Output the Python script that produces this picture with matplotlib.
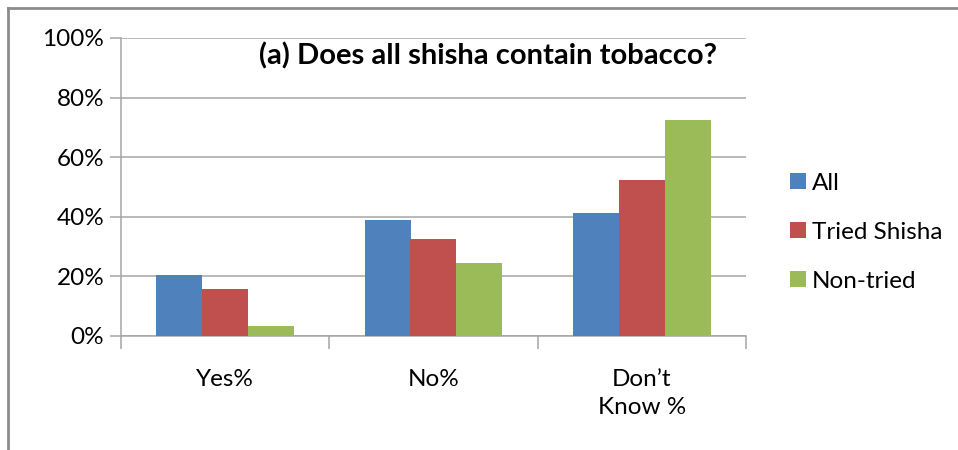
import numpy as np
import matplotlib
matplotlib.use('Agg')
import matplotlib.pyplot as plt
from matplotlib.lines import Line2D
from matplotlib.ticker import FixedLocator, PercentFormatter

categories = ['Yes%', 'No%', 'Don\u2019t\nKnow %']
series_names = ['All', 'Tried Shisha', 'Non-tried']
all_pct = [20.5, 38.9, 41.2]
tried_pct = [15.8, 32.4, 52.2]
nontried_pct = [3.3, 24.4, 72.5]
colors = ['#4F81BD', '#C0504D', '#9BBB59']
title = '(a) Does all shisha contain tobacco?'

plt.rcParams['font.family'] = ['Lato', 'DejaVu Sans']

fig = plt.figure(figsize=(9.58, 4.5), dpi=100)
ax = fig.add_axes([121 / 958, 1 - 336 / 450, 625 / 958, 298 / 450])

x = np.arange(len(categories))
w = 0.2208
for i, (vals, name, c) in enumerate(zip([all_pct, tried_pct, nontried_pct], series_names, colors)):
    ax.bar(x + (i - 1) * w, vals, w, color=c, label=name, linewidth=0, zorder=3)

ax.set_xlim(-0.5, 2.5)
ax.set_ylim(0, 100)
ax.set_yticks(np.arange(0, 101, 20))
ax.yaxis.set_major_formatter(PercentFormatter(decimals=0))
ax.grid(axis='y', color='#a6a6a6', linewidth=1.1, zorder=0)
ax.set_axisbelow(True)

ax.set_xticks(x)
ax.set_xticklabels(categories, fontsize=17.5, linespacing=1.4)
ax.xaxis.set_minor_locator(FixedLocator([-0.5, 0.5, 1.5, 2.5]))
ax.tick_params(axis='x', which='major', length=0, pad=24)
ax.tick_params(axis='x', which='minor', length=9, color='#a6a6a6', width=1.1)
ax.tick_params(axis='y', length=8, color='#a6a6a6', width=1.1, labelsize=17.5, pad=4)

for s in ['top', 'right']:
    ax.spines[s].set_visible(False)
for s in ['left', 'bottom']:
    ax.spines[s].set_color('#a6a6a6')
    ax.spines[s].set_linewidth(1.1)

ax.text((488 - 121) / 625, 0.94, title, transform=ax.transAxes, fontsize=21,
        fontweight='bold', ha='center', va='center')

leg = fig.legend(loc='upper left', bbox_to_anchor=(768 / 958, 1 - 151 / 450),
                 frameon=False, fontsize=17.5, handlelength=0.65, handleheight=0.65,
                 handletextpad=0.25, labelspacing=1.15)

# outer border: left and top edges
fig.add_artist(Line2D([8 / 958, 8 / 958], [0, 1 - 8 / 450], color='#8c8c8c', linewidth=2))
fig.add_artist(Line2D([8 / 958, 1], [1 - 8 / 450, 1 - 8 / 450], color='#8c8c8c', linewidth=2))

fig.savefig('out.png', dpi=100)
